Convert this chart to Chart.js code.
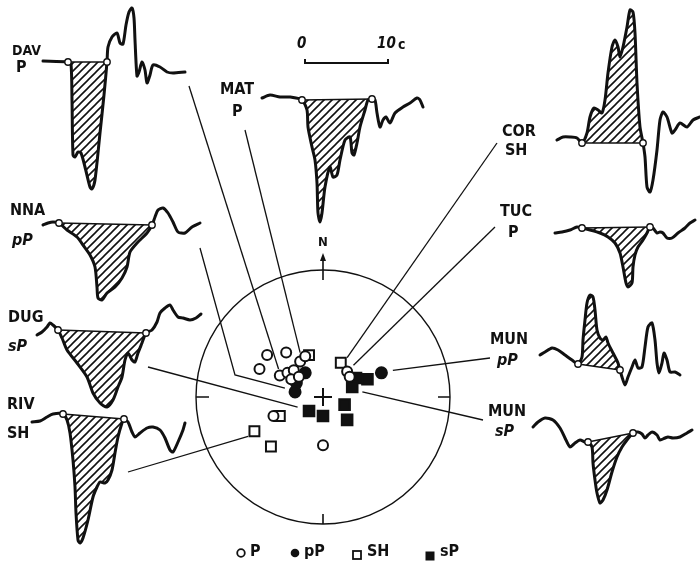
<!DOCTYPE html>
<html><head><meta charset="utf-8">
<script src="https://cdn.jsdelivr.net/npm/chart.js@4/dist/chart.umd.min.js"></script>
<style>html,body{margin:0;padding:0;background:#fff}canvas{display:block}</style>
</head><body>
<canvas id="c" width="700" height="564"></canvas>
<script>
// ---------- DATA ----------
const stationNames = ['DAV','MAT','COR','NNA','DUG','RIV','TUC','MUN','MUN'];
const stationPhases = ['P','P','SH','pP','sP','SH','P','pP','sP'];

// waveforms: [time, amplitude] relative to the first marked onset (amplitude up)
const traceDAV = [[-25,1],[0,0],[3,-2],[4,-38],[5,-93],[7,-95],[10,-90],[13,-91],[17,-105],[22,-125],[24,-127],[27,-118],[32,-71],[36,-33],[39,0],[40,15],[44,25],[49,29],[52,19],[55,18],[58,37],[61,50],[64,54],[66,44],[67,22],[69,-14],[71,-10],[74,0],[77,-8],[79,-21],[82,-13],[85,-3],[92,-5],[99,-10],[105,-11],[117,-10]];
const traceMAT = [[-40,2],[-32,5],[-22,3],[-12,3],[0,0],[5,-10],[6,-27],[10,-47],[13,-60],[15,-83],[16,-113],[18,-122],[20,-113],[23,-87],[28,-67],[31,-77],[35,-75],[38,-60],[43,-40],[48,-37],[50,-53],[52,-55],[55,-43],[58,-27],[63,-10],[66,0],[70,1],[73,0],[75,-13],[78,-27],[81,-20],[84,-17],[88,-23],[93,-13],[101,-7],[108,-3],[115,2],[118,0],[121,-7]];
const traceCOR = [[-25,3],[-19,6],[-12,6],[-5,5],[0,0],[5,10],[8,26],[12,35],[16,33],[20,30],[23,43],[26,70],[30,96],[33,103],[36,96],[38,86],[41,96],[45,116],[48,133],[51,131],[53,110],[55,60],[58,16],[61,0],[63,-14],[65,-44],[68,-49],[71,-37],[75,-7],[78,23],[81,31],[85,26],[90,10],[93,13],[98,20],[105,16],[111,23],[118,26]];
const traceNNA = [[-16,-2],[-11,0],[-6,1],[0,0],[8,-7],[18,-14],[24,-22],[31,-32],[36,-44],[38,-64],[39,-75],[43,-77],[48,-70],[56,-64],[63,-55],[68,-44],[71,-29],[78,-20],[88,-10],[93,-2],[96,6],[99,13],[104,15],[109,10],[114,1],[119,-9],[126,-10],[133,-4],[141,0]];
const traceDUG = [[-21,-5],[-16,-2],[-11,3],[-8,7],[-5,5],[0,0],[4,-8],[9,-20],[19,-33],[29,-47],[35,-63],[42,-73],[49,-77],[55,-70],[60,-57],[64,-47],[67,-30],[70,-23],[74,-30],[77,-32],[80,-23],[84,-13],[88,-3],[94,0],[99,8],[102,17],[107,22],[112,25],[115,20],[120,13],[125,12],[132,10],[138,12],[143,16]];
const traceRIV = [[-31,-8],[-23,-7],[-16,-3],[-10,0],[0,0],[4,-6],[7,-19],[10,-46],[12,-73],[13,-99],[15,-126],[17,-129],[20,-124],[25,-106],[30,-83],[34,-73],[37,-68],[42,-69],[45,-66],[49,-56],[52,-39],[55,-23],[59,-9],[61,-5],[65,-8],[69,-18],[72,-23],[77,-19],[84,-14],[90,-13],[97,-16],[102,-24],[107,-36],[110,-38],[115,-28],[120,-16],[122,-9]];
const traceTUC = [[-27,-5],[-20,-4],[-12,-2],[-5,1],[0,0],[8,-2],[18,-5],[26,-9],[33,-15],[38,-25],[41,-39],[44,-55],[46,-59],[50,-55],[51,-39],[53,-27],[56,-19],[61,-12],[65,-5],[68,1],[71,0],[75,-5],[78,-4],[81,-5],[85,-10],[90,-10],[96,-5],[103,0],[108,5],[113,8]];
const traceMUNpP = [[-38,9],[-33,12],[-26,16],[-20,14],[-13,9],[-6,4],[0,0],[4,7],[5,24],[7,44],[9,61],[12,69],[15,67],[17,54],[19,34],[22,26],[25,24],[28,27],[30,21],[35,11],[40,1],[42,-6],[44,-13],[47,-21],[50,-13],[54,-3],[57,4],[60,-4],[64,-3],[67,17],[70,37],[74,41],[77,24],[79,1],[81,-9],[84,1],[86,11],[89,4],[92,-8],[97,-8],[102,-11]];
const traceMUNsP = [[-55,15],[-50,20],[-43,24],[-35,22],[-28,14],[-23,4],[-18,-5],[-13,-1],[-8,2],[-3,0],[0,0],[4,-5],[5,-21],[7,-38],[9,-51],[12,-61],[15,-58],[19,-48],[24,-30],[29,-15],[34,-5],[39,2],[45,9],[50,10],[54,8],[57,4],[60,7],[64,10],[69,7],[72,2],[77,4],[80,5],[85,4],[92,5],[99,9],[104,12]];
// indices of the two marked points (start / end of the hatched pulse)
const onsetIdx = [[1,14],[4,26],[4,23],[3,19],[5,22],[4,23],[4,19],[6,21],[10,22]];

// focal sphere observations, unit-circle coordinates (east, north)
const obsP  = [[-0.44,0.33],[-0.29,0.35],[-0.50,0.22],[-0.34,0.17],[-0.28,0.19],[-0.23,0.21],[-0.18,0.28],[-0.25,0.14],[-0.19,0.16],[-0.14,0.32],[0.19,0.20],[0.21,0.16],[0.00,-0.38],[-0.39,-0.15]];
const obspP = [[-0.14,0.19],[-0.21,0.11],[-0.22,0.04],[0.46,0.19]];
const obsSH = [[-0.11,0.33],[0.14,0.27],[-0.54,-0.27],[-0.41,-0.39],[-0.34,-0.15]];
const obssP = [[0.26,0.15],[0.35,0.14],[0.23,0.08],[-0.11,-0.11],[0.00,-0.15],[0.17,-0.06],[0.19,-0.18]];
// observation each station's leader line points to (unit-circle coords)
const leaderTarget = [[-0.35,0.22],[-0.18,0.35],[0.19,0.31],[-0.30,0.07],[-0.20,-0.08],[-0.59,-0.31],[0.24,0.25],[0.55,0.21],[0.31,0.04]];
const legendLabels = ['P','pP','SH','sP'];

// ---------- LAYOUT ----------
const traceOrigin = [[68,62],[302,100],[582,143],[59,223],[58,330],[63,414],[582,228],[578,364],[588,442]];
const labelPos = [[12,51,16,68],[220,90,232,112],[502,132,505,151],[10,211,12,241],[8,318,8,347],[7,405,7,434],[500,212,508,233],[490,340,497,361],[488,412,495,432]];
const leaderStart = [[189,86],[245,130],[497,143],[200,248],[148,367],[128,472],[495,227],[490,358],[483,420]];
const leaderVia = {3:[235,375]};
const S = {cx:323, cy:397, r:127};

// ---------- BUILD ----------
const traces = [traceDAV,traceMAT,traceCOR,traceNNA,traceDUG,traceRIV,traceTUC,traceMUNpP,traceMUNsP];

const pc = document.createElement('canvas'); pc.width = 8; pc.height = 8;
const pctx = pc.getContext('2d');
pctx.strokeStyle = '#111'; pctx.lineWidth = 1.6;
pctx.beginPath();
pctx.moveTo(0,8); pctx.lineTo(8,0);
pctx.moveTo(-2,2); pctx.lineTo(2,-2);
pctx.moveTo(6,10); pctx.lineTo(10,6);
pctx.stroke();
const hatch = pctx.createPattern(pc,'repeat');

const sp = ([u,v]) => ({x:S.cx + u*S.r, y:S.cy - v*S.r});
const datasets = [];
const INK = '#111';

function symbolSet(list, style, filled, radius){
  datasets.push({data:list.map(sp), showLine:false, pointStyle:style, pointRadius:radius,
    pointBorderWidth:2, pointBorderColor:INK, pointBackgroundColor: filled?INK:'#fff', order:0});
}
symbolSet(obsP,'circle',false,5);
symbolSet(obspP,'circle',true,5.5);
symbolSet(obsSH,'rect',false,7);
symbolSet(obssP,'rect',true,7.5);

traces.forEach((tr,i)=>{
  const [x0,y0] = traceOrigin[i];
  const pts = tr.map(([t,a])=>({x:x0+t, y:y0-a}));
  const [i0,i1] = onsetIdx[i];
  datasets.push({data:[pts[i0],pts[i1]], showLine:false, pointRadius:3.2, pointBorderWidth:1.4,
    pointBorderColor:INK, pointBackgroundColor:'#fff', order:1});
  datasets.push({data:pts, borderColor:INK, borderWidth:3, tension:0.25, pointRadius:0,
    borderJoinStyle:'round', borderCapStyle:'round', fill:false, order:2});
  datasets.push({data:[pts[i0],pts[i1]], borderColor:INK, borderWidth:1.4, pointRadius:0, tension:0, fill:false, order:3});
  datasets.push({data:pts.slice(i0,i1+1), borderWidth:0, borderColor:'rgba(0,0,0,0)', backgroundColor:hatch,
    tension:0.25, pointRadius:0, fill:'shape', order:4});
  const lp = [{x:leaderStart[i][0], y:leaderStart[i][1]}];
  if (leaderVia[i]) lp.push({x:leaderVia[i][0], y:leaderVia[i][1]});
  lp.push(sp(leaderTarget[i]));
  datasets.push({data:lp, borderColor:INK, borderWidth:1.3, pointRadius:0, tension:0, fill:false, order:5});
});

const deco = {
  id:'deco',
  beforeDraw(chart){
    const c = chart.ctx; c.save(); c.fillStyle='#fff'; c.fillRect(0,0,chart.width,chart.height); c.restore();
  },
  beforeDatasetsDraw(chart){
    const c = chart.ctx, X = v=>chart.scales.x.getPixelForValue(v), Y = v=>chart.scales.y.getPixelForValue(v);
    const cx = X(S.cx), cy = Y(S.cy), r = X(S.cx+S.r)-cx;
    c.save();
    c.strokeStyle = INK; c.lineWidth = 1.4;
    c.beginPath(); c.arc(cx,cy,r,0,Math.PI*2); c.stroke();
    c.lineWidth = 1.6;
    c.beginPath();
    c.moveTo(cx-r, cy); c.lineTo(cx-r+13, cy);
    c.moveTo(cx+r, cy); c.lineTo(cx+r-12, cy);
    c.moveTo(cx, cy+r); c.lineTo(cx, cy+r-10);
    c.moveTo(cx, cy-r+10); c.lineTo(cx, cy-r-12);
    c.stroke();
    c.fillStyle = INK;
    c.beginPath(); c.moveTo(cx, cy-r-17); c.lineTo(cx-3, cy-r-9); c.lineTo(cx+3, cy-r-9); c.closePath(); c.fill();
    c.lineWidth = 2;
    c.beginPath(); c.moveTo(cx-9,cy); c.lineTo(cx+9,cy); c.moveTo(cx,cy-9); c.lineTo(cx,cy+9); c.stroke();
    c.lineWidth = 2;
    c.beginPath(); c.moveTo(X(305),Y(59)); c.lineTo(X(305),Y(63)); c.lineTo(X(388),Y(63)); c.lineTo(X(388),Y(59)); c.stroke();
    c.restore();
  },
  afterDatasetsDraw(chart){
    const c = chart.ctx, X = v=>chart.scales.x.getPixelForValue(v), Y = v=>chart.scales.y.getPixelForValue(v);
    c.save();
    c.fillStyle = INK; c.textBaseline = 'middle'; c.textAlign = 'left';
    const F = '"Liberation Sans Narrow","DejaVu Sans Condensed",sans-serif';
    stationNames.forEach((n,i)=>{
      const [ax,ay,bx,by] = labelPos[i];
      c.font = (i===0?'bold 14px ':'bold 16px ') + F;
      c.fillText(n, X(ax), Y(ay));
      const ph = stationPhases[i];
      c.font = (/[a-z]/.test(ph)?'italic bold 16px ':'bold 16px ') + F;
      c.fillText(ph, X(bx), Y(by));
    });
    c.font = 'bold 13px ' + F;
    c.fillText('N', X(318), Y(243));
    c.font = 'italic bold 15px ' + F;
    c.fillText('0', X(297), Y(44));
    c.fillText('10', X(377), Y(44));
    c.font = 'bold 14px ' + F;
    c.fillText('с', X(398), Y(45));
    const lx = [241,295,357,430], tx = [250,304,367,440];
    c.lineWidth = 1.8; c.strokeStyle = INK;
    c.beginPath(); c.arc(X(lx[0]),Y(553),3.8,0,Math.PI*2); c.fillStyle='#fff'; c.fill(); c.stroke();
    c.fillStyle = INK;
    c.beginPath(); c.arc(X(lx[1]),Y(553),4.3,0,Math.PI*2); c.fill();
    c.strokeRect(X(lx[2])-4,Y(555)-4,8,8);
    c.fillRect(X(lx[3])-4.5,Y(556)-4.5,9,9);
    c.font = 'bold 16px ' + F;
    legendLabels.forEach((t,i)=>c.fillText(t, X(tx[i]), Y(552)));
    c.restore();
  }
};

new Chart(document.getElementById('c'), {
  type:'line',
  data:{datasets},
  options:{
    responsive:false, animation:false, devicePixelRatio:1,
    layout:{padding:0, autoPadding:false},
    plugins:{legend:{display:false}, tooltip:{enabled:false}},
    scales:{
      x:{type:'linear', min:0, max:700, display:false},
      y:{type:'linear', min:0, max:564, reverse:true, display:false}
    }
  },
  plugins:[deco]
});
</script>
</body></html>
